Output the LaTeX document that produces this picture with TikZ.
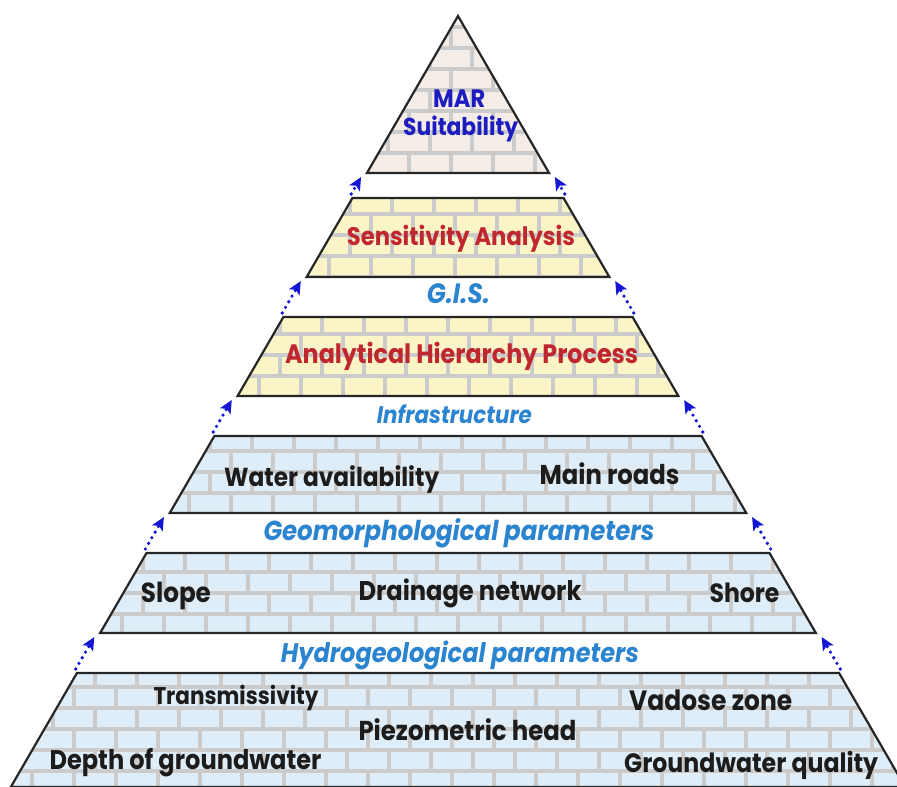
\documentclass[tikz,border=0pt]{standalone}
\usepackage{fontspec}
\setmainfont{Poppins}
\usetikzlibrary{arrows.meta}
\definecolor{mortarc}{HTML}{CBCBCB}
\definecolor{creambrick}{HTML}{F4ECE6}
\definecolor{yellowbrick}{HTML}{FAF4C6}
\definecolor{bluebrick}{HTML}{DEEDF7}
\definecolor{marblue}{HTML}{1C1CC0}
\definecolor{hdrblue}{HTML}{2B84D0}
\definecolor{redtxt}{HTML}{C0262E}
\definecolor{txtblack}{HTML}{1C1C1C}
\definecolor{arrblue}{HTML}{1515D5}
\newcommand\fitw[2]{\scalebox{1}[1.12]{\resizebox{#1pt}{!}{#2}}}
\newcommand\mklayer[3]{%
  \coordinate (#1tl) at ({458-0.58*(#2-16)},#2);
  \coordinate (#1tr) at ({458+0.58*(#2-16)},#2);
  \coordinate (#1bl) at ({458-0.58*(#3-16)},#3);
  \coordinate (#1br) at ({458+0.58*(#3-16)},#3);}
\newcommand\brickfill[4]{%
  \fill[#3] (#1tl)--(#1tr)--(#1br)--(#1bl)--cycle;
  \begin{scope}
    \clip (#1tl)--(#1tr)--(#1br)--(#1bl)--cycle;
    \foreach \r in {-8,...,6} {
      \pgfmathsetmacro\ya{#2+21*(\r-1)}
      \pgfmathsetmacro\yb{#2+21*\r}
      \draw[mortar] (0,\yb) -- (900,\yb);
      \pgfmathsetmacro\off{#4+mod(\r+8,2)*21}
      \foreach \j in {-1,...,22} {
        \draw[mortar] ({\off+42*\j},\ya) -- ({\off+42*\j},\yb);
      }
    }
  \end{scope}
  \draw[edge] (#1tl)--(#1tr)--(#1br)--(#1bl)--cycle;}
\newcommand\gaparrows[3]{%
  \coordinate (g#1ls) at ({458-0.58*(#3-4-16)-3.5},{#3-4});
  \coordinate (g#1le) at ({458-0.58*(#2+4-16)-3.5},{#2+4});
  \coordinate (g#1rs) at ({458+0.58*(#3-4-16)+3.5},{#3-4});
  \coordinate (g#1re) at ({458+0.58*(#2+4-16)+3.5},{#2+4});
  \draw[arr] (g#1ls) -- (g#1le);
  \draw[arr] (g#1rs) -- (g#1re);}
\begin{document}
\begin{tikzpicture}[x=1pt,y=-1pt,
  mortar/.style={draw=mortarc,line width=3.2pt},
  edge/.style={draw=black!85,line width=2.2pt,line join=miter},
  arr/.style={draw=arrblue,line width=3.6pt,line cap=round,dash pattern=on 0pt off 6.5pt,
    -{Stealth[length=13pt,width=12pt,inset=3pt,fill=arrblue]}},
  txt/.style={inner sep=0pt,anchor=base west,font=\fontsize{20}{24}\selectfont\bfseries},
  lbl/.style={txt,text=txtblack},
  hdr/.style={txt,text=hdrblue,font=\fontsize{20}{24}\selectfont\bfseries\itshape},
  redl/.style={txt,text=redtxt},
  marl/.style={txt,text=marblue}]
\useasboundingbox (0,0) rectangle (897,787);
\fill[white] (0,0) rectangle (897,787);
% layers
\mklayer{T}{16}{173}
\mklayer{A}{198}{277}
\mklayer{B}{317}{396}
\mklayer{C}{436}{513}
\mklayer{D}{553}{633}
\mklayer{E}{673}{787}
\brickfill{T}{153}{creambrick}{10}
\brickfill{A}{214}{yellowbrick}{14}
\brickfill{B}{334}{yellowbrick}{28}
\brickfill{C}{451}{bluebrick}{0}
\brickfill{D}{572}{bluebrick}{17}
\brickfill{E}{687}{bluebrick}{11}
% arrows
\gaparrows{1}{173}{198}
\gaparrows{2}{277}{317}
\gaparrows{3}{396}{436}
\gaparrows{4}{513}{553}
\gaparrows{5}{633}{673}
% texts
\node[marl] (mar) at (433,107) {\fitw{52}{MAR}};
\node[marl] (suit) at (403,135) {\fitw{115}{Suitability}};
\node[redl] (sens) at (346.7,245) {\fitw{228}{Sensitivity Analysis}};
\node[hdr] (gis) at (426.7,303) {\fitw{63}{G.I.S.}};
\node[redl] (ahp) at (285,363) {\fitw{353}{Analytical Hierarchy Process}};
\node[hdr] (infra) at (376.7,423) {\fitw{155}{Infrastructure}};
\node[lbl] (water) at (224,486) {\fitw{215}{Water availability}};
\node[lbl] (roads) at (539.3,484) {\fitw{140}{Main roads}};
\node[hdr] (geo) at (263.3,540) {\fitw{391}{Geomorphological parameters}};
\node[lbl] (slope) at (140.7,602) {\fitw{70}{Slope}};
\node[lbl] (drain) at (358.3,600.6) {\fitw{223}{Drainage network}};
\node[lbl] (shore) at (709.3,602.7) {\fitw{70}{Shore}};
\node[hdr] (hydro) at (280.7,662.5) {\fitw{358}{Hydrogeological parameters}};
\node[lbl] (trans) at (153.3,704) {\fitw{165}{Transmissivity}};
\node[lbl] (vadose) at (629,710) {\fitw{163}{Vadose zone}};
\node[lbl] (piezo) at (358.3,740) {\fitw{218}{Piezometric head}};
\node[lbl] (depth) at (49.3,769) {\fitw{272}{Depth of groundwater}};
\node[lbl] (qual) at (624,772) {\fitw{254}{Groundwater quality}};
\end{tikzpicture}
\end{document}
